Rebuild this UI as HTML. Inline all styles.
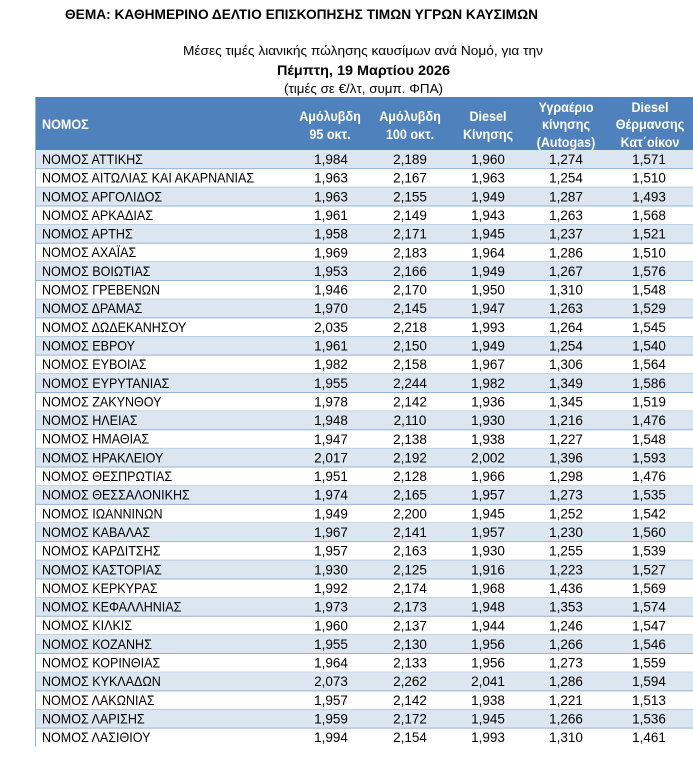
<!DOCTYPE html>
<html><head><meta charset="utf-8"><style>html,body{margin:0;padding:0;background:#fff}svg{display:block}</style></head>
<body>
<svg width="693" height="765" xmlns="http://www.w3.org/2000/svg" font-family="'Liberation Sans', sans-serif">
<text x="65" y="19" font-size="14" font-weight="bold" textLength="473" lengthAdjust="spacingAndGlyphs">ΘΕΜΑ: ΚΑΘΗΜΕΡΙΝΟ ΔΕΛΤΙΟ ΕΠΙΣΚΟΠΗΣΗΣ ΤΙΜΩΝ ΥΓΡΩΝ ΚΑΥΣΙΜΩΝ</text>
<text x="183" y="55" font-size="13" textLength="360" lengthAdjust="spacingAndGlyphs">Μέσες τιμές λιανικής πώλησης καυσίμων ανά Νομό, για την</text>
<text x="277" y="75" font-size="14" font-weight="bold" textLength="173" lengthAdjust="spacingAndGlyphs">Πέμπτη, 19 Μαρτίου 2026</text>
<text x="284" y="93" font-size="13" textLength="159" lengthAdjust="spacingAndGlyphs">(τιμές σε €/λτ, συμπ. ΦΠΑ)</text>
<rect x="35" y="97" width="658" height="53" fill="#4f81bd"/>
<g fill="#fff" font-weight="bold" font-size="14" text-anchor="middle">
<g transform="translate(42 0) scale(0.9 1)"><text x="0" y="129" text-anchor="start">ΝΟΜΟΣ</text></g>
<g transform="translate(330 0) scale(0.9 1)"><text x="0" y="121">Αμόλυβδη</text><text x="0" y="139">95 οκτ.</text></g>
<g transform="translate(410 0) scale(0.9 1)"><text x="0" y="121">Αμόλυβδη</text><text x="0" y="139">100 οκτ.</text></g>
<g transform="translate(488 0) scale(0.9 1)"><text x="0" y="121">Diesel</text><text x="0" y="139">Κίνησης</text></g>
<g transform="translate(566 0) scale(0.9 1)"><text x="0" y="112">Υγραέριο</text><text x="0" y="129">κίνησης</text><text x="0" y="147">(Autogas)</text></g>
<g transform="translate(650 0) scale(0.9 1)"><text x="0" y="112">Diesel</text><text x="0" y="129">Θέρμανσης</text><text x="0" y="147">Κατ΄οίκον</text></g>
</g>
<g id="rows"></g>
<line x1="35.5" y1="97" x2="35.5" y2="747" stroke="#95b3d7"/>
</svg>
<script>
var d=[["ΑΤΤΙΚΗΣ","1,984","2,189","1,960","1,274","1,571"],
["ΑΙΤΩΛΙΑΣ ΚΑΙ ΑΚΑΡΝΑΝΙΑΣ","1,963","2,167","1,963","1,254","1,510"],
["ΑΡΓΟΛΙΔΟΣ","1,963","2,155","1,949","1,287","1,493"],
["ΑΡΚΑΔΙΑΣ","1,961","2,149","1,943","1,263","1,568"],
["ΑΡΤΗΣ","1,958","2,171","1,945","1,237","1,521"],
["ΑΧΑΪΑΣ","1,969","2,183","1,964","1,286","1,510"],
["ΒΟΙΩΤΙΑΣ","1,953","2,166","1,949","1,267","1,576"],
["ΓΡΕΒΕΝΩΝ","1,946","2,170","1,950","1,310","1,548"],
["ΔΡΑΜΑΣ","1,970","2,145","1,947","1,263","1,529"],
["ΔΩΔΕΚΑΝΗΣΟΥ","2,035","2,218","1,993","1,264","1,545"],
["ΕΒΡΟΥ","1,961","2,150","1,949","1,254","1,540"],
["ΕΥΒΟΙΑΣ","1,982","2,158","1,967","1,306","1,564"],
["ΕΥΡΥΤΑΝΙΑΣ","1,955","2,244","1,982","1,349","1,586"],
["ΖΑΚΥΝΘΟΥ","1,978","2,142","1,936","1,345","1,519"],
["ΗΛΕΙΑΣ","1,948","2,110","1,930","1,216","1,476"],
["ΗΜΑΘΙΑΣ","1,947","2,138","1,938","1,227","1,548"],
["ΗΡΑΚΛΕΙΟΥ","2,017","2,192","2,002","1,396","1,593"],
["ΘΕΣΠΡΩΤΙΑΣ","1,951","2,128","1,966","1,298","1,476"],
["ΘΕΣΣΑΛΟΝΙΚΗΣ","1,974","2,165","1,957","1,273","1,535"],
["ΙΩΑΝΝΙΝΩΝ","1,949","2,200","1,945","1,252","1,542"],
["ΚΑΒΑΛΑΣ","1,967","2,141","1,957","1,230","1,560"],
["ΚΑΡΔΙΤΣΗΣ","1,957","2,163","1,930","1,255","1,539"],
["ΚΑΣΤΟΡΙΑΣ","1,930","2,125","1,916","1,223","1,527"],
["ΚΕΡΚΥΡΑΣ","1,992","2,174","1,968","1,436","1,569"],
["ΚΕΦΑΛΛΗΝΙΑΣ","1,973","2,173","1,948","1,353","1,574"],
["ΚΙΛΚΙΣ","1,960","2,137","1,944","1,246","1,547"],
["ΚΟΖΑΝΗΣ","1,955","2,130","1,956","1,266","1,546"],
["ΚΟΡΙΝΘΙΑΣ","1,964","2,133","1,956","1,273","1,559"],
["ΚΥΚΛΑΔΩΝ","2,073","2,262","2,041","1,286","1,594"],
["ΛΑΚΩΝΙΑΣ","1,957","2,142","1,938","1,221","1,513"],
["ΛΑΡΙΣΗΣ","1,959","2,172","1,945","1,266","1,536"],
["ΛΑΣΙΘΙΟΥ","1,994","2,154","1,993","1,310","1,461"]];
var cx=[331,410,488,566,649],s="";
d.forEach(function(r,i){var t=150+i*18.65,b=t+14;
if(i%2==0)s+='<rect x="35" y="'+t+'" width="658" height="18.65" fill="#dce6f1"/>';
if(i<31)s+='<line x1="35" x2="693" y1="'+(t+18.65)+'" y2="'+(t+18.65)+'" stroke="#95b3d7"/>';
s+='<g transform="translate(42 0) scale(0.93 1)"><text x="0" y="'+b+'" font-size="13.5">ΝΟΜΟΣ '+r[0]+'</text></g>';
for(var k=1;k<6;k++)s+='<text x="'+cx[k-1]+'" y="'+b+'" font-size="13.5" text-anchor="middle">'+r[k]+'</text>';});
document.getElementById("rows").innerHTML=s;
</script>
</body></html>
